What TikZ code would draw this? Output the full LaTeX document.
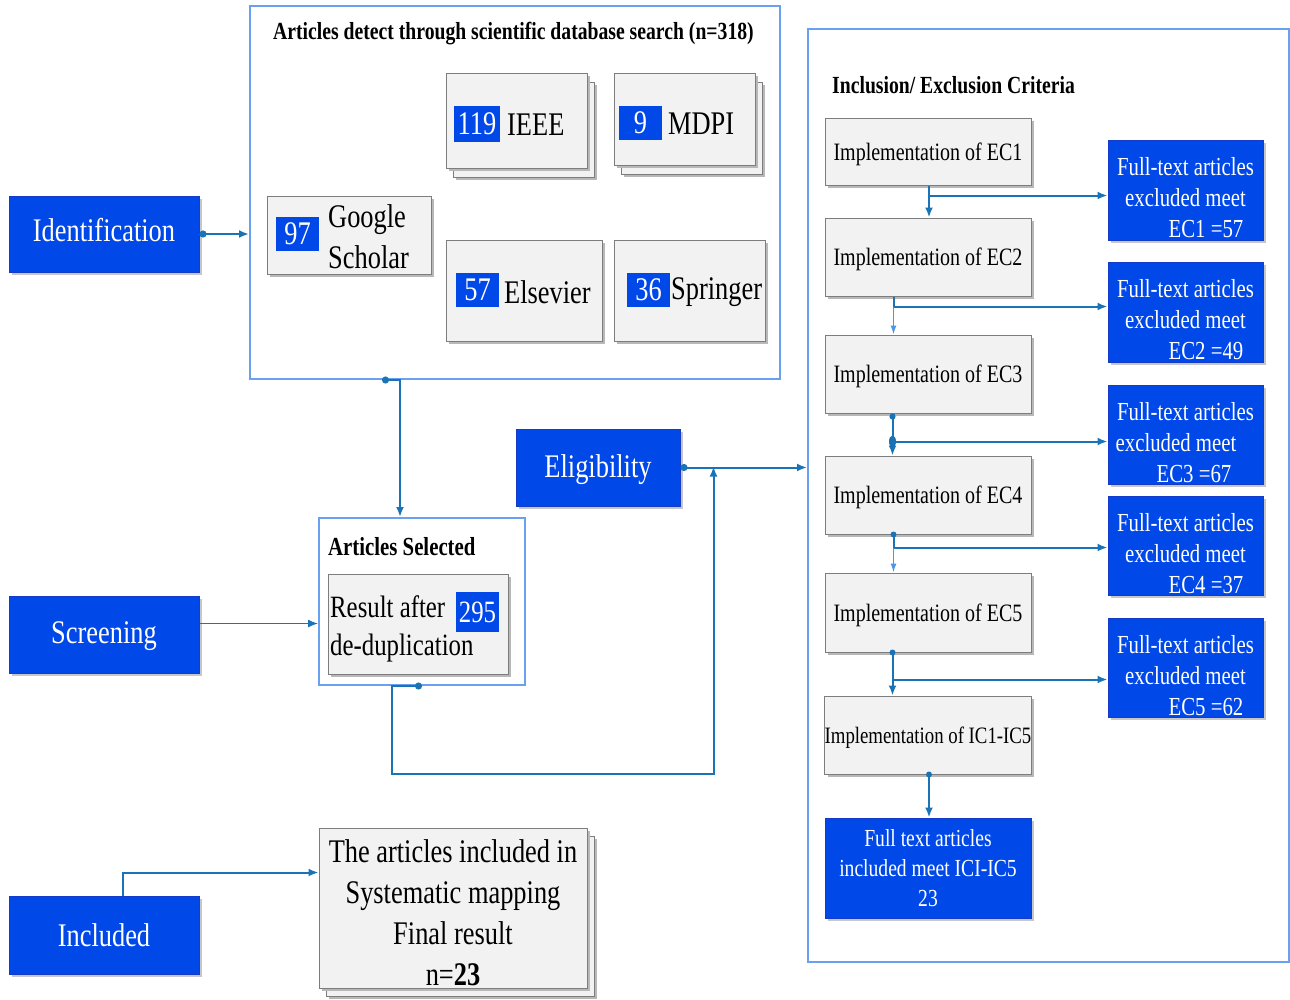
\documentclass[tikz,border=0pt]{standalone}
\usepackage{fontspec}
\setmainfont{Liberation Serif}[FakeStretch=0.8]
\usetikzlibrary{arrows.meta,shadows,calc}

\definecolor{bblue}{RGB}{0,72,232}
\definecolor{bedge}{RGB}{20,60,200}
\definecolor{fblue}{RGB}{105,160,240}
\definecolor{lnk}{RGB}{25,115,180}
\definecolor{lnklight}{RGB}{75,150,230}
\definecolor{gfill}{RGB}{242,242,242}
\definecolor{gedge}{RGB}{125,125,125}

\newcommand{\fs}[2]{\fontsize{#1}{#2}\selectfont}

\begin{document}
\begin{tikzpicture}[x=1pt,y=-1pt,
  stagebox/.style={draw=bedge,fill=bblue,line width=1pt,inner sep=0pt,text=white,
    drop shadow={shadow xshift=3pt,shadow yshift=-3pt,fill=black!22,opacity=1}},
  badge/.style={fill=bblue,inner sep=0pt,text=white},
  graybox/.style={draw=gedge,fill=gfill,line width=1pt,inner sep=0pt,
    drop shadow={shadow xshift=3pt,shadow yshift=-3pt,fill=black!28,opacity=1}},
  frame/.style={draw=fblue,line width=2pt,inner sep=0pt},
  lbl/.style={anchor=west,inner sep=0pt,align=left},
  tip/.style={-{Latex[length=10pt,width=8pt]}},
  conn/.style={draw=lnk,line width=2pt,tip},
  thinconn/.style={draw=lnklight,line width=1.3pt,-{Latex[length=9pt,width=6pt]}},
  dotconn/.style={draw=lnk,line width=2pt,{Circle[length=7pt,width=7pt]}-{Latex[length=10pt,width=8pt]}},
  big/.style={font={\fs{33}{36}}},
  excl/.style={stagebox,minimum width=155pt},
  excltxt/.style={inner sep=0pt,align=center,text=white,font={\fs{26}{31}}},
  impl/.style={graybox,minimum width=206pt,font={\fs{25}{30}},text height=18pt,text depth=1pt},
]
\useasboundingbox (0,0) rectangle (1290,999);

% ---------- stage labels ----------
\node[stagebox,big,minimum width=190pt,minimum height=76pt,text height=23pt,text depth=8pt] (ident) at (104,234) {Identification};
\node[stagebox,big,minimum width=190pt,minimum height=77pt,text depth=4pt] (screen) at (104,634.5) {Screening};
\node[stagebox,big,minimum width=190pt,minimum height=78pt] (incl) at (104,935) {Included};
\node[stagebox,big,minimum width=164pt,minimum height=77pt,text depth=3pt] (elig) at (598,467.5) {Eligibility};

% ---------- database search ----------
\node[frame,minimum width=530pt,minimum height=373pt] (db) at (515,192.5) {};
\node[lbl,font={\fs{24.6}{28}\bfseries}] (tdb) at (273,34) {Articles detect through scientific database search (n=318)};

\node[graybox,minimum width=141pt,minimum height=95pt] (ieeeback) at (523.5,129.5) {};
\node[graybox,minimum width=141pt,minimum height=95pt] (ieee) at (516.5,120.5) {};
\node[badge,big,minimum width=46pt,minimum height=36pt] (b119) at (477,124) {119};
\node[lbl,big] (tieee) at (507,125) {IEEE};

\node[graybox,minimum width=141pt,minimum height=92pt] (mdpiback) at (691.5,128) {};
\node[graybox,minimum width=141pt,minimum height=92pt] (mdpi) at (684.5,119) {};
\node[badge,big,minimum width=43pt,minimum height=34pt] (b9) at (640.5,123) {9};
\node[lbl,big] (tmdpi) at (668,124) {MDPI};

\node[graybox,minimum width=164pt,minimum height=78pt] (gs) at (349,235) {};
\node[badge,big,minimum width=43pt,minimum height=34pt] (b97) at (297.5,234) {97};
\node[lbl,font={\fs{33}{41}}] (tgs) at (328,237) {Google\\Scholar};

\node[graybox,minimum width=156pt,minimum height=101pt] (els) at (524,290.5) {};
\node[badge,big,minimum width=43pt,minimum height=34pt] (b57) at (477.5,290) {57};
\node[lbl,big] (tels) at (504,292) {Elsevier};

\node[graybox,minimum width=151pt,minimum height=101pt] (spr) at (689.5,290.5) {};
\node[badge,big,minimum width=43pt,minimum height=34pt] (b36) at (648.5,290) {36};
\node[lbl,big] (tspr) at (671,292) {Springer};

% ---------- articles selected ----------
\node[frame,minimum width=206pt,minimum height=167pt] (sel) at (422,601.5) {};
\node[lbl,font={\fs{26}{30}\bfseries}] (tsel) at (328,547) {Articles Selected};
\node[graybox,minimum width=180pt,minimum height=100pt] (dedup) at (418,624) {};
\node[lbl,font={\fs{31}{38}}] (tdedup) at (330,629) {Result after\\de-duplication};
\node[badge,font={\fs{31}{36}},minimum width=43pt,minimum height=40pt] (b295) at (477.5,612) {295};

% ---------- final result ----------
\node[graybox,minimum width=268pt,minimum height=160pt] (finalback) at (460,916) {};
\node[graybox,minimum width=268pt,minimum height=160pt] (final) at (453,908) {};
\node[inner sep=0pt,align=center,font={\fs{33}{41}}] (finaltxt) at (453,913)
  {The articles included in\\Systematic mapping\\Final result\\n=\textbf{23}};

% ---------- criteria ----------
\node[frame,minimum width=481pt,minimum height=933pt] (crit) at (1048.5,495.5) {};
\node[lbl,font={\fs{24.6}{28}\bfseries}] (tcrit) at (832,85) {Inclusion/ Exclusion Criteria};

\node[impl,minimum height=67pt] (ec1) at (928,151.5) {Implementation of EC1};
\node[impl,minimum height=78pt] (ec2) at (928,257) {Implementation of EC2};
\node[impl,minimum height=78pt] (ec3) at (928,374) {Implementation of EC3};
\node[impl,minimum height=78pt] (ec4) at (928,495) {Implementation of EC4};
\node[impl,minimum height=79pt] (ec5) at (928,612.5) {Implementation of EC5};
\node[impl,minimum height=78pt,font={\fs{23.5}{30}}] (ic) at (928,735) {Implementation of IC1-IC5};
\node[stagebox,minimum width=206pt,minimum height=100pt,align=center,font={\fs{24.5}{30}}] (incfin) at (928,868)
  {Full text articles\\included meet ICI-IC5\\23};

\node[excl,minimum height=100pt] (x1) at (1185.5,190) {};
\node[excltxt] (x1t) at (1185.5,198) {Full-text articles\\excluded meet\\\hspace*{41pt}EC1 =57};
\node[excl,minimum height=100pt] (x2) at (1185.5,312) {};
\node[excltxt] (x2t) at (1185.5,320) {Full-text articles\\excluded meet\\\hspace*{41pt}EC2 =49};
\node[excl,minimum height=99pt] (x3) at (1185.5,434.5) {};
\node[excltxt] (x3t) at (1185.5,443) {Full-text articles\\\hspace*{-19pt}excluded meet\\\hspace*{17pt}EC3 =67};
\node[excl,minimum height=99pt] (x4) at (1185.5,545.5) {};
\node[excltxt] (x4t) at (1185.5,554) {Full-text articles\\excluded meet\\\hspace*{41pt}EC4 =37};
\node[excl,minimum height=99pt] (x5) at (1185.5,667.5) {};
\node[excltxt] (x5t) at (1185.5,676) {Full-text articles\\excluded meet\\\hspace*{41pt}EC5 =62};

% ---------- connectors ----------
\draw[dotconn] (ident.east) -- (ident.east -| db.west);

\coordinate (dA) at ($(db.south west)+(133,0)$);
\draw[dotconn] (dA) -- ++(18,0) coordinate (dB) -- (dB |- sel.north);

\draw[conn,line width=1.3pt] ($(screen.east)+(0,-11)$) coordinate (sA) -- (sA -| sel.west);

\coordinate (eJ) at ($(elig.east)+(33,-1)$);
\draw[dotconn] (sel.south) -- ++(-30,0) -- ++(0,88) -| (eJ);
\draw[dotconn] (elig.east) -- (elig.east -| crit.west);

% EC1
\coordinate (e1) at ($(ec1.south)+(1,0)$);
\draw[conn] (e1) -- (e1 |- ec2.north);
\draw[conn] ($(e1)+(0,10)$) coordinate (h1) -- (h1 -| x1.west);
% EC2
\coordinate (e2) at ($(ec2.south west)+(69,0)$);
\draw[draw=lnk,line width=2pt] (e2) -- ++(0,10) coordinate (h2);
\draw[thinconn] (h2) -- (h2 |- ec3.north);
\draw[conn] (h2) -- (h2 -| x2.west);
% EC3
\coordinate (e3) at ($(ec3.south west)+(68,0)$);
\draw[draw=lnk,line width=2pt,{Circle[length=6pt,width=6pt]}-{Latex[length=10pt,width=8pt]}] (e3) -- (e3 |- ec4.north);
\coordinate (h3) at ($(e3)+(0,28)$);
\fill[lnk] (h3) ellipse (3.5 and 6);
\draw[conn] (h3) -- (h3 -| x3.west);
% EC4
\coordinate (e4) at ($(ec4.south west)+(69,0)$);
\fill[lnk] (e4) circle (3);
\draw[draw=lnk,line width=2pt] (e4) -- ++(0,13) coordinate (h4);
\draw[thinconn] (h4) -- (h4 |- ec5.north);
\draw[conn] (h4) -- (h4 -| x4.west);
% EC5
\coordinate (e5) at ($(ec5.south west)+(68,0)$);
\fill[lnk] (e5) circle (3);
\draw[conn] (e5) -- (e5 |- ic.north);
\draw[conn] ($(e5)+(0,27)$) coordinate (h5) -- (h5 -| x5.west);
% IC1-IC5
\coordinate (e6) at ($(ic.south)+(1,0)$);
\fill[lnk] (e6) circle (3);
\draw[conn] (e6) -- (e6 |- incfin.north);

% included
\draw[conn] ($(incl.north)+(19,0)$) |- ($(final.north west)+(0,45)$);
\end{tikzpicture}
\end{document}
